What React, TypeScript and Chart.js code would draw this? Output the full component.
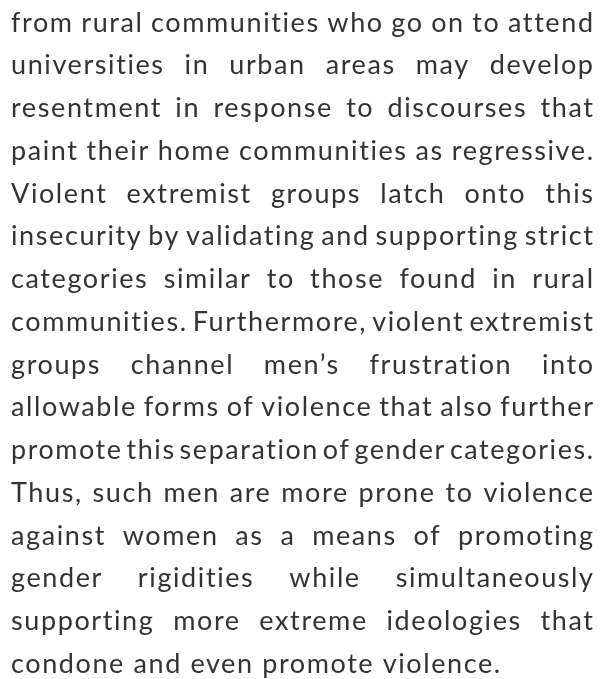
import React, { useEffect, useRef } from "react";
import { Chart, registerables } from "chart.js";

Chart.register(...registerables);

const textLines: string[] = [
  "from rural communities who go on to attend",
  "universities in urban areas may develop",
  "resentment in response to discourses that",
  "paint their home communities as regressive.",
  "Violent extremist groups latch onto this",
  "insecurity by validating and supporting strict",
  "categories similar to those found in rural",
  "communities. Furthermore, violent extremist",
  "groups channel men\u2019s frustration into",
  "allowable forms of violence that also further",
  "promote this separation of gender categories.",
  "Thus, such men are more prone to violence",
  "against women as a means of promoting",
  "gender rigidities while simultaneously",
  "supporting more extreme ideologies that",
  "condone and even promote violence.",
];

const W = 601;
const H = 679;
const LEFT = 11;
const RIGHT = 593;
const FIRST_BASELINE = 31.5;
const LINE_GAP = 42.75;
const FONT = "27px Lato";
const LETTER_SPACING = 1.6;
const COLOR = "#333333";

const textPlugin = {
  id: "paragraphText",
  afterDraw(chart: any) {
    const ctx = chart.ctx as any;
    ctx.save();
    ctx.font = FONT;
    ctx.letterSpacing = LETTER_SPACING + "px";
    ctx.fillStyle = COLOR;
    ctx.textBaseline = "alphabetic";
    ctx.textAlign = "left";
    const width = RIGHT - LEFT;
    const measure = (w: string) => ctx.measureText(w).width;
    textLines.forEach((line, i) => {
      const y = FIRST_BASELINE + i * LINE_GAP;
      const words = line.split(" ");
      const last = i === textLines.length - 1;
      if (last || words.length < 2) {
        ctx.fillText(line, LEFT, y);
        return;
      }
      const widths = words.map(measure);
      const sum = widths.reduce((a: number, b: number) => a + b, 0);
      let gap = (width + LETTER_SPACING - sum) / (words.length - 1);
      let scale = 1;
      const minGap = 4;
      if (gap < minGap) {
        scale = (width + LETTER_SPACING - minGap * (words.length - 1)) / sum;
        gap = minGap;
      }
      let x = LEFT;
      words.forEach((w, k) => {
        ctx.save();
        ctx.translate(x, y);
        ctx.scale(scale, 1);
        ctx.fillText(w, 0, 0);
        ctx.restore();
        x += widths[k] * scale + gap;
      });
    });
    ctx.restore();
  },
};

export default function App() {
  const ref = useRef<HTMLCanvasElement | null>(null);
  useEffect(() => {
    if (!ref.current) return;
    const chart = new Chart(ref.current, {
      type: "bar",
      data: { labels: [], datasets: [] },
      options: {
        animation: false,
        responsive: false,
        devicePixelRatio: 1,
        layout: { padding: 0 },
        scales: { x: { display: false }, y: { display: false } },
        plugins: { legend: { display: false }, tooltip: { enabled: false } },
      },
      plugins: [textPlugin],
    });
    return () => chart.destroy();
  }, []);
  return (
    <div style={{ position: "absolute", left: 0, top: 0, width: W, height: H, background: "#ffffff" }}>
      <canvas ref={ref} width={W} height={H} style={{ width: W, height: H, display: "block" }} />
    </div>
  );
}
